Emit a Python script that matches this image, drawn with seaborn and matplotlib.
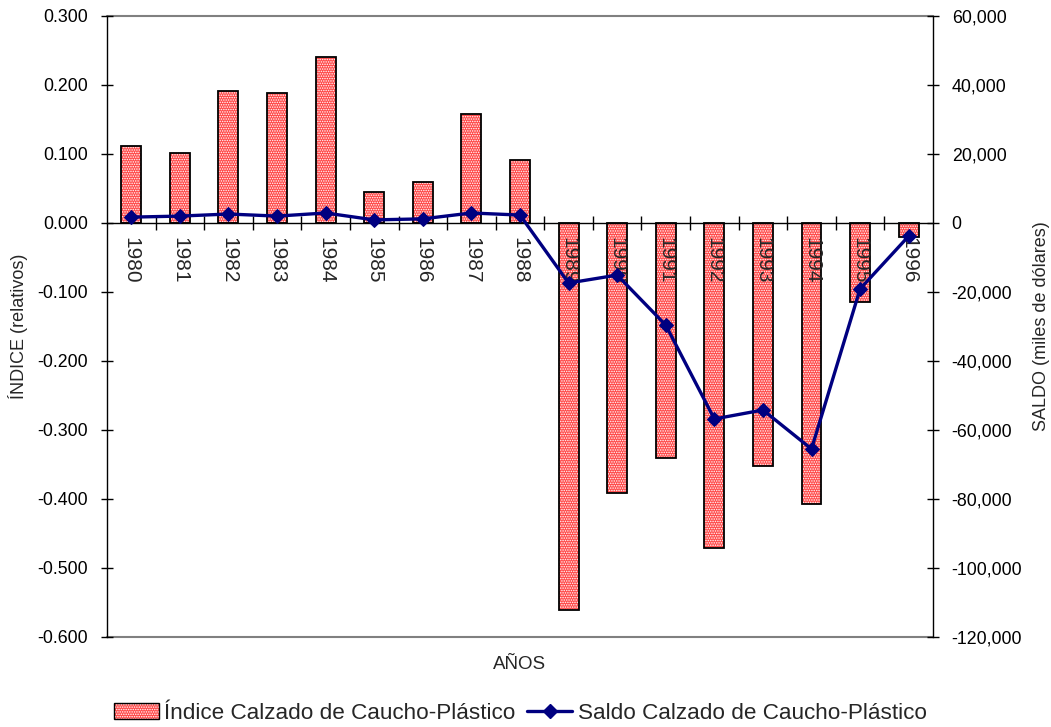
import numpy as np
import pandas as pd
import matplotlib
matplotlib.use("Agg")
import matplotlib.pyplot as plt
import seaborn as sns
from matplotlib.patches import Patch
from matplotlib.lines import Line2D
from matplotlib.legend_handler import HandlerTuple
from matplotlib.ticker import FuncFormatter, FixedLocator

years = ["1980", "1981", "1982", "1983", "1984", "1985", "1986", "1987", "1988",
         "1989", "1990", "1991", "1992", "1993", "1994", "1995", "1996"]
indice = [0.112, 0.101, 0.191, 0.188, 0.240, 0.045, 0.059, 0.158, 0.091,
          -0.561, -0.391, -0.341, -0.471, -0.352, -0.407, -0.114, -0.020]
saldo = [1700, 2000, 2600, 2000, 2900, 900, 1200, 2900, 2300,
         -17400, -15100, -29600, -56800, -54200, -65500, -19100, -3800]

sns.set_theme(style="white")
plt.rcParams["font.family"] = ["Liberation Sans", "DejaVu Sans"]
plt.rcParams["hatch.linewidth"] = 0.7

BAR_FACE = "#ff4a4a"
BAR_HATCH = "......."
LINE_COLOR = "#000080"

df = pd.DataFrame({"year": years, "indice": indice, "saldo": saldo})

fig = plt.figure(figsize=(10.51, 7.27), dpi=100)
ax = fig.add_axes([0.1018, 0.1238, 0.7859, 0.8542])

# hatched fill, then black outline on top
sns.barplot(data=df, x="year", y="indice", ax=ax, color=BAR_FACE, width=0.41,
            saturation=1, linewidth=0, edgecolor="white")
for p in ax.patches:
    p.set_hatch(BAR_HATCH)
    p.set_edgecolor("white")
    p.set_linewidth(0)
sns.barplot(data=df, x="year", y="indice", ax=ax, fill=False, color="black",
            width=0.41, linewidth=1.3)
ax.set_axisbelow(False)

ax.set_xlim(-0.5, len(years) - 0.5)
ax.set_ylim(-0.6, 0.3)
ax.set_yticks(np.arange(-0.6, 0.301, 0.1))


def fmt_index(v, _):
    v = round(v, 3)
    return f"{abs(v):.3f}" if v == 0 else f"{v:.3f}"


ax.yaxis.set_major_formatter(FuncFormatter(fmt_index))
ax.tick_params(axis="y", direction="inout", length=9, width=1, colors="black",
               labelsize=12.8, pad=9, left=True)

# category axis runs along zero
ax.spines["bottom"].set_position(("data", 0))
ax.spines["bottom"].set_color("black")
ax.spines["bottom"].set_linewidth(1.0)
ax.spines["top"].set_visible(False)
ax.spines["right"].set_visible(False)
ax.spines["left"].set_color("black")
ax.spines["left"].set_linewidth(1.0)
ax.axhline(0.3, color="#808080", lw=1.5, zorder=0, clip_on=False)
ax.axhline(-0.6, color="#808080", lw=1.5, zorder=0, clip_on=False)

ax.xaxis.set_minor_locator(FixedLocator(np.arange(0.5, len(years) - 1, 1.0)))
ax.tick_params(axis="x", which="major", length=0, labelsize=15, pad=10,
               labelrotation=270, bottom=True)
ax.tick_params(axis="x", which="minor", direction="inout", length=10, width=1,
               color="black", bottom=True)
for lbl in ax.get_xticklabels():
    lbl.set_va("top")
    lbl.set_ha("center")

ax.set_xlabel("")
ax.set_ylabel("ÍNDICE (relativos)", fontsize=13, labelpad=7)
fig.text(0.4945, 0.086, "AÑOS", ha="center", va="center", fontsize=13.5)

ax2 = ax.twinx()
sns.lineplot(x=np.arange(len(years)), y=saldo, ax=ax2, color=LINE_COLOR,
             linewidth=2.4, marker="D", markersize=7.5, markeredgecolor=LINE_COLOR)
ax2.set_ylim(-120000, 60000)
ax2.set_yticks(np.arange(-120000, 60001, 20000))
ax2.yaxis.set_major_formatter(FuncFormatter(lambda v, _: f"{v:,.0f}"))
ax2.tick_params(axis="y", direction="inout", length=9, width=1, colors="black",
                labelsize=12.8, pad=9, right=True)
for s in ["top", "bottom", "left"]:
    ax2.spines[s].set_visible(False)
ax2.spines["right"].set_color("black")
ax2.spines["right"].set_linewidth(1.0)
ax2.set_ylabel("SALDO (miles de dólares)", fontsize=13, rotation=90, labelpad=8)
ax2.grid(False)
ax.grid(False)

bar_fill = Patch(facecolor=BAR_FACE, edgecolor="white", hatch=BAR_HATCH, linewidth=0)
bar_edge = Patch(facecolor="none", edgecolor="black", linewidth=1.0)
line_h = Line2D([], [], color=LINE_COLOR, lw=2.4, marker="D", markersize=7.5)
fig.legend([(bar_fill, bar_edge), line_h],
           ["Índice Calzado de Caucho-Plástico", "Saldo Calzado de Caucho-Plástico"],
           handler_map={tuple: HandlerTuple(ndivide=1)},
           loc="center", bbox_to_anchor=(0.495, 0.019), ncol=2, frameon=False,
           fontsize=16.2, handlelength=2.0, handletextpad=0.25, columnspacing=0.5)

fig.savefig("out.png", dpi=100, facecolor="white")
